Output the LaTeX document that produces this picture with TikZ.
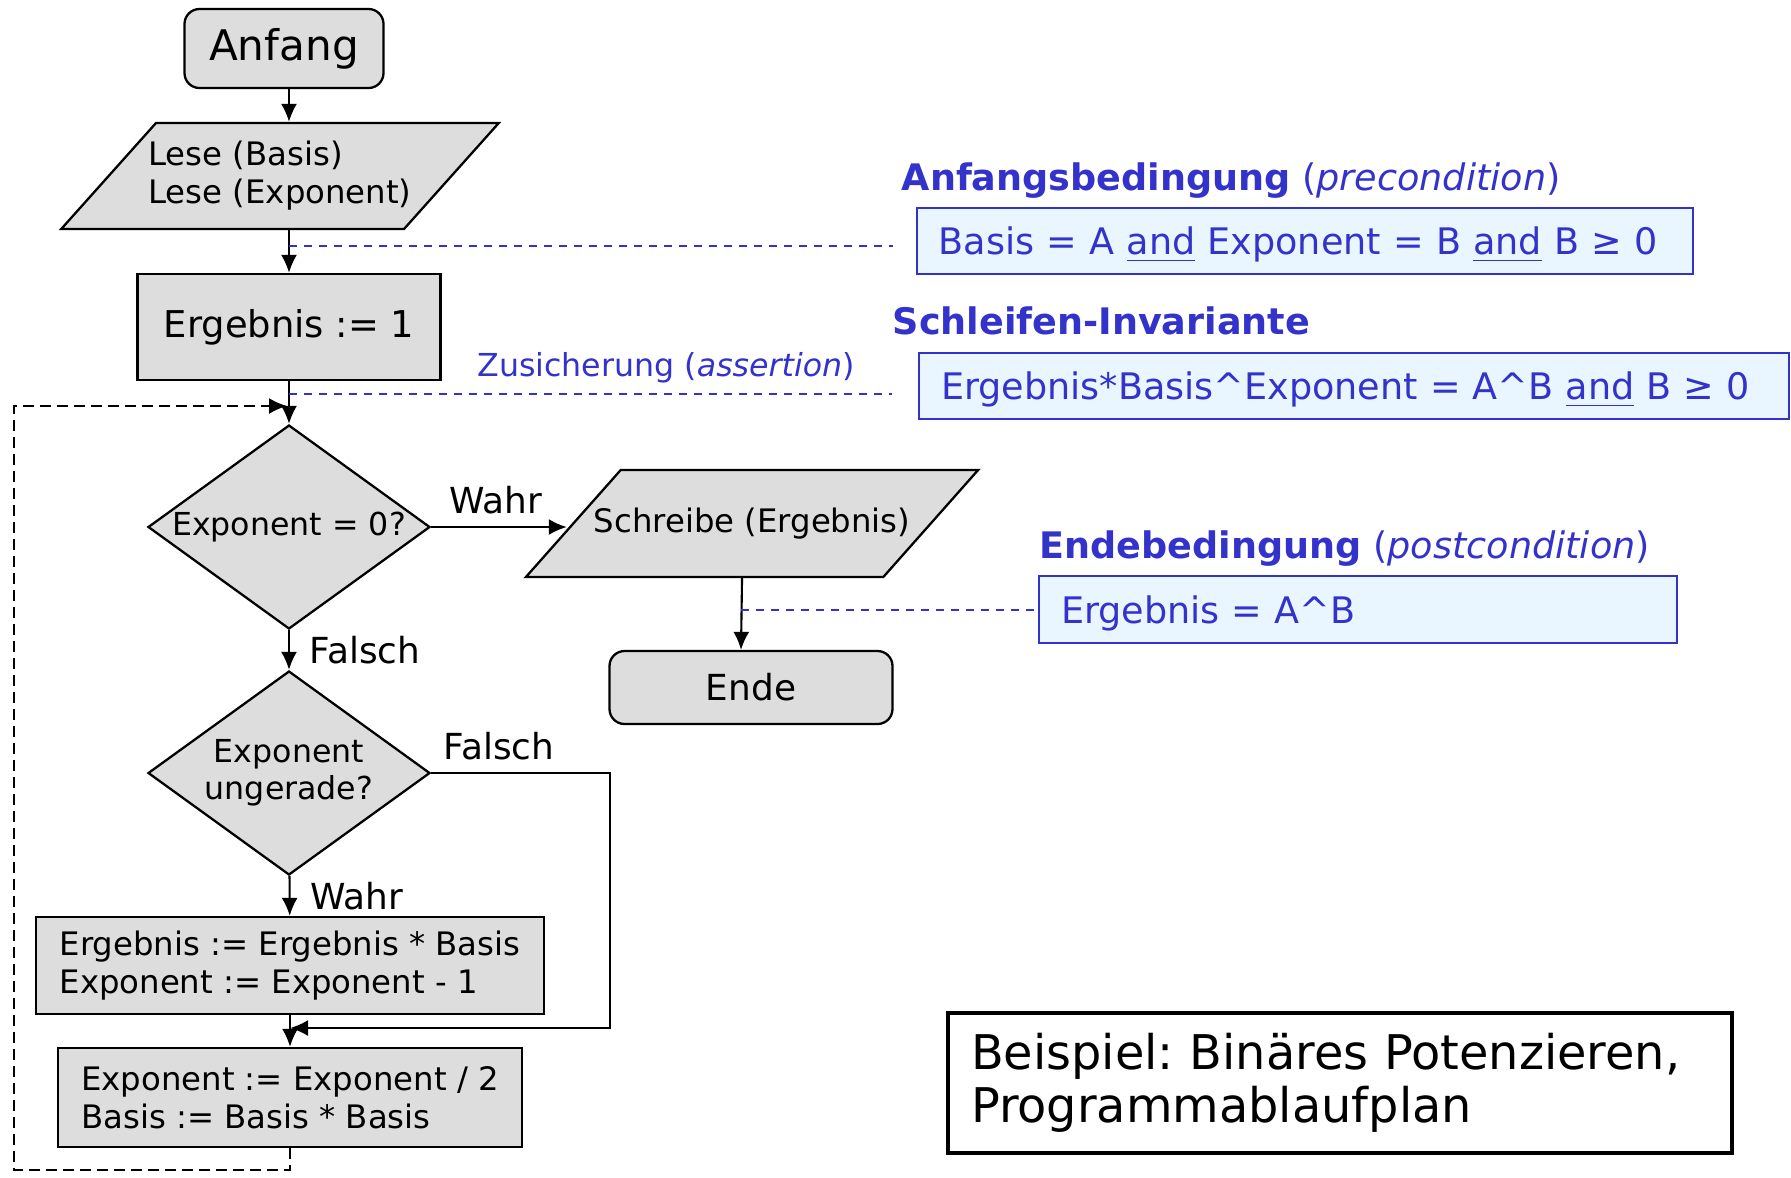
\documentclass[tikz,border=0pt]{standalone}
\usepackage{fontspec}
\setmainfont{DejaVu Sans}
\usetikzlibrary{shapes.geometric,arrows.meta}
\definecolor{zblau}{RGB}{51,51,204}
\definecolor{zhell}{RGB}{234,246,255}
\definecolor{kgrau}{RGB}{221,221,221}
\frenchspacing

\begin{document}
\begin{tikzpicture}[>={Latex[length=1.8mm,width=1.6mm]},
  every node/.style={font=\fontsize{9.2}{10.8}\selectfont},
  kasten/.style={draw,fill=kgrau,line width=0.65pt,inner sep=0pt,align=left},
  io/.style={kasten,trapezium,trapezium left angle=48,trapezium right angle=132,trapezium stretches body=true},
  frage/.style={kasten,diamond,aspect=1.38,align=center,font=\fontsize{9}{10.5}\selectfont},
  cond/.style={draw=zblau,fill=zhell,line width=0.6pt,text=zblau,align=left,inner xsep=0.22cm,inner ysep=0pt,
    text height=8.5pt,text depth=0.5pt,font=\fontsize{10.4}{12}\selectfont},
  titel/.style={text=zblau,anchor=base west,inner sep=0pt,font=\fontsize{10.4}{12}\selectfont},
  lab/.style={font=\fontsize{10.2}{12}\selectfont},
  pfeil/.style={->,line width=0.6pt},
  assert/.style={zblau,line width=0.45pt,dash pattern=on 0.8mm off 0.7mm},
  rueck/.style={->,line width=0.6pt,dash pattern=on 1.1mm off 0.6mm}]

\useasboundingbox (0,0) rectangle (17.91,-11.77);

% Ablaufplan (links)
\node[kasten,rounded corners=1.5mm,minimum width=1.99cm,minimum height=0.79cm,font=\fontsize{12}{14}\selectfont] (anf) at (2.84,-0.485) {Anfang};
\node[io,minimum height=1.06cm,inner ysep=0.18cm,inner xsep=-0.075cm] (lese) at (2.80,-1.76) {Lese (Basis)\\Lese (Exponent)};
\node[kasten,minimum width=3.03cm,minimum height=1.06cm,font=\fontsize{10.5}{12}\selectfont] (erg1) at (2.89,-3.27) {Ergebnis := 1};
\node[frage,minimum width=2.82cm,minimum height=2.04cm] (dec1) at (2.89,-5.27) {Exponent = 0?};
\node[frage,minimum width=2.82cm,minimum height=2.04cm] (dec2) at (2.89,-7.73) {Exponent\\ungerade?};
\node[kasten,minimum width=5.08cm,minimum height=0.97cm] (box3) at (2.90,-9.655) {Ergebnis := Ergebnis * Basis\\Exponent := Exponent - 1};
\node[kasten,minimum width=4.64cm,minimum height=0.99cm] (box4) at (2.90,-10.975) {Exponent := Exponent / 2\\Basis := Basis * Basis};

\node[io,minimum height=1.07cm,inner ysep=0.37cm,inner xsep=-0.27cm] (schr) at (7.52,-5.235) {Schreibe (Ergebnis)};
\node[kasten,rounded corners=1.5mm,minimum width=2.83cm,minimum height=0.73cm,font=\fontsize{10.2}{12}\selectfont] (ende) at (7.51,-6.875) {Ende};

\coordinate (frr) at (6.10,-10.28);
\coordinate (mrg) at (2.90,-10.28);
\coordinate (lpl) at (0.14,-11.70);
\coordinate (lpt) at (0.14,-4.06);
\coordinate (lp)  at (2.87,-4.06);

\draw[pfeil] (anf.south -| erg1) -- (lese.north -| erg1);
\draw[pfeil] (lese.south -| erg1) -- (erg1);
\draw[pfeil] (erg1) -- (dec1);
\draw[pfeil,shorten >=0.5mm] (dec1.east) -- node[lab,above,xshift=-0.6mm] {Wahr} (schr.west |- dec1.east);
\draw[pfeil] (dec1) -- node[lab,right,xshift=0.8mm] {Falsch} (dec2);
\draw[pfeil] (dec2) -- node[lab,right,xshift=0.8mm] {Wahr} (box3);
\draw[pfeil] (dec2.east) node[lab,above right] {Falsch} -| (frr) -- (mrg);
\draw[pfeil] (box3) -- (box4);
\draw[rueck] (box4.south) |- (lpl) -- (lpt) -- (lp);
\draw[pfeil] ([xshift=-1mm]schr.south) -- ([xshift=-1mm]ende.north);

% Zusicherungen (rechts)
\node[titel] (tpre) at (9.01,-1.907) {\textbf{Anfangsbedingung} (\textit{precondition})};
\node[cond,text width=7.32cm,minimum height=0.66cm] (pre) at (13.047,-2.409) {Basis = A \underline{and} Exponent = B \underline{and} B ≥ 0};

\node[titel] (tinv) at (8.92,-3.34) {\textbf{Schleifen-Invariante}};
\node[cond,text width=8.26cm,minimum height=0.66cm] (inv) at (13.54,-3.857) {Ergebnis*Basis\textasciicircum Exponent = A\textasciicircum B \underline{and} B ≥ 0};
\node[titel,font=\fontsize{9}{10.5}\selectfont] (zus) at (4.767,-3.767) {Zusicherung (\textit{assertion})};

\node[titel] (tpost) at (10.39,-5.58) {\textbf{Endebedingung} (\textit{postcondition})};
\node[cond,text width=5.94cm,minimum height=0.667cm] (post) at (13.58,-6.094) {Ergebnis = A\textasciicircum B};

\coordinate (a1) at (2.89,-2.457);
\coordinate (a2) at (2.89,-3.94);
\coordinate (a3) at (7.41,-6.10);
\draw[assert,shorten >=2.3mm] (a1) -- (a1 -| pre.west);
\draw[assert,shorten >=2.6mm] (a2) -- (a2 -| inv.west);
\draw[assert] (a3) -- (a3 -| post.west);

% Titel
\node[draw,line width=1pt,text width=7.38cm,minimum width=7.84cm,minimum height=1.40cm,align=left,font=\fontsize{13.6}{15}\selectfont] (bsp) at (13.40,-10.83) {Beispiel: Binäres Potenzieren,\\Programmablaufplan};

\end{tikzpicture}
\end{document}
